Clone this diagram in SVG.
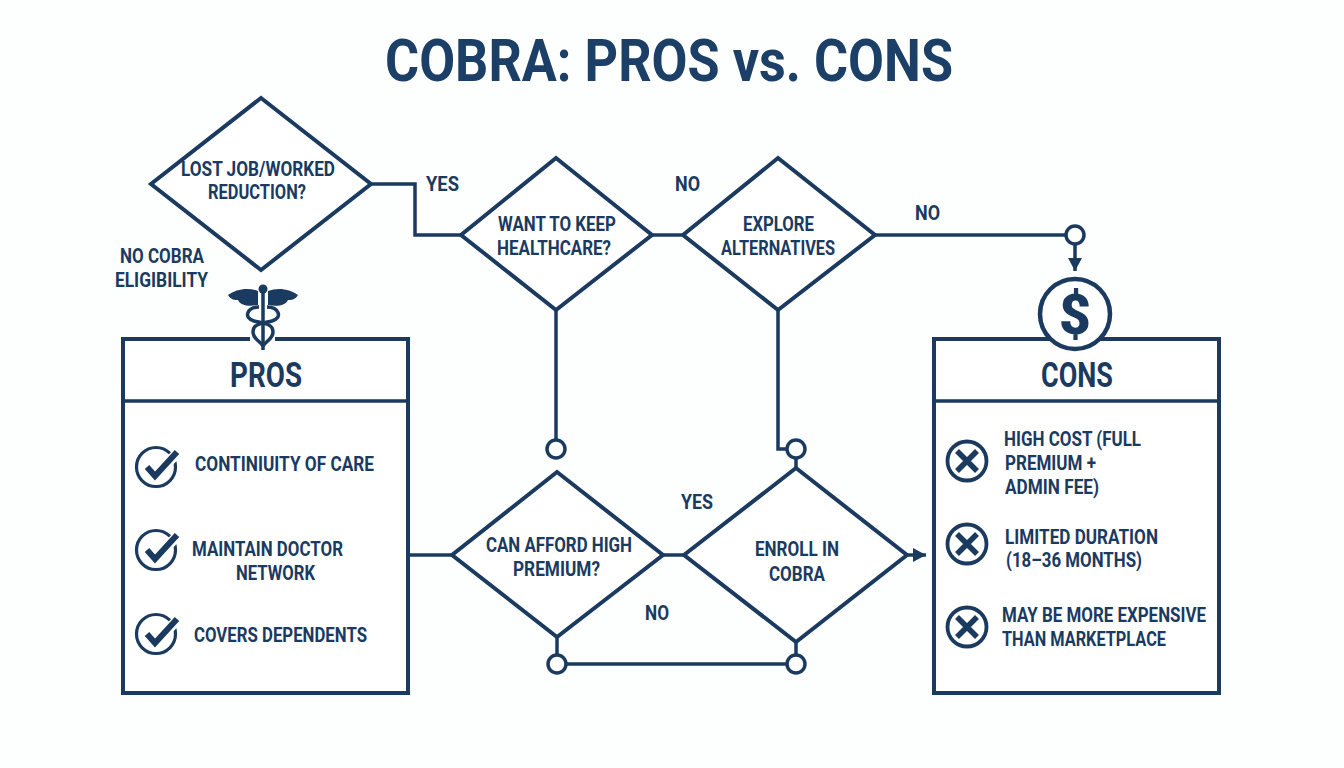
<svg xmlns="http://www.w3.org/2000/svg" width="1344" height="768" viewBox="0 0 1344 768">
<style>
text{font-family:"Roboto","Liberation Sans",sans-serif;font-weight:700;fill:#1b3a5f}
.t{font-size:21px}
.h{font-size:35px}
.line{fill:none;stroke:#1b3a5f;stroke-width:3.5}
.shape{fill:#fff;stroke:#1b3a5f;stroke-width:4;stroke-linejoin:miter}
.knob{fill:#fff;stroke:#1b3a5f;stroke-width:3.5}
.ico{fill:none;stroke:#1b3a5f;stroke-width:3.2}
.mark{fill:none;stroke:#1b3a5f;stroke-width:6;stroke-linecap:butt;stroke-linejoin:miter}
.halo{fill:none;stroke:#fdfefe;stroke-width:10}
.fillc{fill:#1b3a5f}
</style>
<defs>
<marker id="arrow" markerUnits="userSpaceOnUse" markerWidth="14" markerHeight="14" refX="13" refY="7" orient="auto"><path d="M0,0 L13,7 L0,14 Z" fill="#1b3a5f"/></marker>
<g id="check"><circle class="ico" r="19.5"/><path class="halo" d="M8,0 L23,-16"/><path class="mark" d="M-9,0 L-1,9 L21,-15"/></g>
<g id="cross"><circle class="ico" style="stroke-width:3.8" r="19.5"/><path class="mark" style="stroke-width:5.5" d="M-10,-10 L10,10 M10,-10 L-10,10"/></g>
</defs>
<rect width="1344" height="768" fill="#fdfefe"/>
<text id="title" x="385" y="81" font-size="60" textLength="568" lengthAdjust="spacingAndGlyphs" style="fill:#1c3f68">COBRA: PROS vs. CONS</text>

<g id="connectors">
<path class="line" d="M371,184 H415 V235 H461"/>
<path class="line" d="M652,235 H683"/>
<path class="line" d="M875,235 H1066"/>
<path class="line" d="M1075,244 V271" marker-end="url(#arrow)"/>
<path class="line" d="M556,310 V440"/>
<path class="line" d="M778,310 V449 H787"/>
<path class="line" d="M796,458 V468"/>
<path class="line" d="M408,555 H452"/>
<path class="line" d="M663,555 H684"/>
<path class="line" d="M907,555 H926" marker-end="url(#arrow)"/>
<path class="line" d="M557,637 V655"/>
<path class="line" d="M796,642 V655"/>
<path class="line" d="M566,664 H787"/>
</g>

<g id="junctions">
<circle class="knob" cx="1075" cy="235" r="9"/>
<circle class="knob" cx="556" cy="449" r="9"/>
<circle class="knob" cx="796" cy="449" r="9"/>
<circle class="knob" cx="557" cy="664" r="9"/>
<circle class="knob" cx="796" cy="664" r="9"/>
</g>

<g id="node-lost-job">
<polygon class="shape" points="261,98 371,184 261,270 151,184"/>
<text class="t" x="181" y="176" textLength="154" lengthAdjust="spacingAndGlyphs">LOST JOB/WORKED</text>
<text class="t" x="208" y="199" textLength="98" lengthAdjust="spacingAndGlyphs">REDUCTION?</text>
</g>
<g id="node-keep-healthcare">
<polygon class="shape" points="556,158 652,235 556,310 461,235"/>
<text class="t" x="498" y="231" textLength="118" lengthAdjust="spacingAndGlyphs">WANT TO KEEP</text>
<text class="t" x="497" y="255" textLength="114" lengthAdjust="spacingAndGlyphs">HEALTHCARE?</text>
</g>
<g id="node-alternatives">
<polygon class="shape" points="778,158 875,235 778,310 683,235"/>
<text class="t" x="743" y="231" textLength="71" lengthAdjust="spacingAndGlyphs">EXPLORE</text>
<text class="t" x="721" y="255" textLength="114" lengthAdjust="spacingAndGlyphs">ALTERNATIVES</text>
</g>
<g id="node-afford">
<polygon class="shape" points="557,472 663,555 557,637 452,555"/>
<text class="t" x="486" y="552" textLength="146" lengthAdjust="spacingAndGlyphs">CAN AFFORD HIGH</text>
<text class="t" x="513" y="576" textLength="87" lengthAdjust="spacingAndGlyphs">PREMIUM?</text>
</g>
<g id="node-enroll">
<polygon class="shape" points="796,468 907,555 796,642 684,555"/>
<text class="t" x="755" y="556" textLength="84" lengthAdjust="spacingAndGlyphs">ENROLL IN</text>
<text class="t" x="769" y="581" textLength="56" lengthAdjust="spacingAndGlyphs">COBRA</text>
</g>

<g id="labels">
<text class="t" x="426" y="191" textLength="33" lengthAdjust="spacingAndGlyphs">YES</text>
<text class="t" x="675" y="191" textLength="25" lengthAdjust="spacingAndGlyphs">NO</text>
<text class="t" x="915" y="220" textLength="25" lengthAdjust="spacingAndGlyphs">NO</text>
<text class="t" x="120" y="263" textLength="84" lengthAdjust="spacingAndGlyphs">NO COBRA</text>
<text class="t" x="115" y="287" textLength="93" lengthAdjust="spacingAndGlyphs">ELIGIBILITY</text>
<text class="t" x="681" y="509" textLength="32" lengthAdjust="spacingAndGlyphs">YES</text>
<text class="t" x="645" y="620" textLength="24" lengthAdjust="spacingAndGlyphs">NO</text>
</g>

<g id="node-pros">
<rect class="shape" x="123" y="339" width="285" height="354"/>
<path class="line" d="M123,401 H408"/>
<rect x="250" y="334" width="25" height="10" fill="#fdfefe"/>
<text class="h" x="230" y="387" textLength="72" lengthAdjust="spacingAndGlyphs">PROS</text>
<g id="caduceus">
<path class="fillc" d="M258,291 C248,287 236,289 228,295 C231,300 235,300 238,300 C240,305 248,307 258,305 Z"/>
<path class="fillc" d="M268,291 C278,287 290,289 298,295 C295,300 291,300 288,300 C286,305 278,307 268,305 Z"/>
<circle class="fillc" cx="263" cy="289" r="4.5"/>
<path class="line" d="M263,292 V350"/>
<path class="line" d="M259,307 C247,307 243,318 254,321 C262,323 273,323 273,332 C273,339 266,341 263,346"/>
<path class="line" d="M267,307 C279,307 283,318 272,321 C264,323 253,323 253,332 C253,339 260,341 263,346"/>
</g>
<use href="#check" x="156" y="467"/>
<use href="#check" x="156" y="550"/>
<use href="#check" x="156" y="634"/>
<text class="t" x="195" y="471" textLength="179" lengthAdjust="spacingAndGlyphs">CONTINIUITY OF CARE</text>
<text class="t" x="192" y="556" textLength="151" lengthAdjust="spacingAndGlyphs">MAINTAIN DOCTOR</text>
<text class="t" x="236" y="580" textLength="79" lengthAdjust="spacingAndGlyphs">NETWORK</text>
<text class="t" x="194" y="642" textLength="173" lengthAdjust="spacingAndGlyphs">COVERS DEPENDENTS</text>
</g>

<g id="node-cons">
<rect class="shape" x="934" y="339" width="285" height="354"/>
<path class="line" d="M934,401 H1219"/>
<text class="h" x="1041" y="387" textLength="72" lengthAdjust="spacingAndGlyphs">CONS</text>
<circle cx="1075" cy="314" r="35" fill="#fff" stroke="#1b3a5f" stroke-width="4.5"/>
<text x="1075" y="334" font-size="55" text-anchor="middle" style="font-weight:900">$</text>
<use href="#cross" x="967" y="461"/>
<use href="#cross" x="967" y="544"/>
<use href="#cross" x="967" y="627"/>
<text class="t" x="1004" y="446" textLength="137" lengthAdjust="spacingAndGlyphs">HIGH COST (FULL</text>
<text class="t" x="1005" y="470" textLength="91" lengthAdjust="spacingAndGlyphs">PREMIUM +</text>
<text class="t" x="1005" y="494" textLength="94" lengthAdjust="spacingAndGlyphs">ADMIN FEE)</text>
<text class="t" x="1005" y="544" textLength="153" lengthAdjust="spacingAndGlyphs">LIMITED DURATION</text>
<text class="t" x="1006" y="567" textLength="136" lengthAdjust="spacingAndGlyphs">(18–36 MONTHS)</text>
<text class="t" x="1002" y="622" textLength="204" lengthAdjust="spacingAndGlyphs">MAY BE MORE EXPENSIVE</text>
<text class="t" x="1002" y="646" textLength="164" lengthAdjust="spacingAndGlyphs">THAN MARKETPLACE</text>
</g>
</svg>
